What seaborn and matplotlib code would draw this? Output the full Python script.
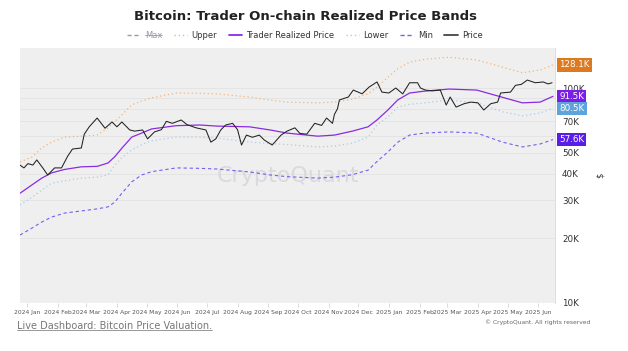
import pandas as pd
import numpy as np
import matplotlib
matplotlib.use('Agg')
import matplotlib.pyplot as plt
import matplotlib.dates as mdates
from matplotlib.lines import Line2D
import seaborn as sns

# Band values (K USD)
band_dates = ['2023-12-25', '2024-01-06', '2024-01-16', '2024-01-26', '2024-02-08', '2024-02-25',
              '2024-03-12', '2024-03-23', '2024-03-30', '2024-04-06', '2024-04-16', '2024-04-26',
              '2024-05-06', '2024-05-31', '2024-06-24', '2024-07-11', '2024-08-13', '2024-09-03',
              '2024-09-20', '2024-10-21', '2024-11-07', '2024-11-25', '2024-12-11', '2024-12-20',
              '2024-12-31', '2025-01-10', '2025-01-22', '2025-02-06', '2025-03-03', '2025-03-31',
              '2025-04-26', '2025-05-16', '2025-06-03', '2025-06-16']
upper = [45.3, 47.7, 52.6, 56.0, 59.1, 59.7, 60.4, 65.3, 70.0, 75.0, 83.5, 87.0, 90.0, 94.8, 94.5,
         93.9, 90.8, 87.9, 86.0, 85.3, 86.0, 88.7, 94.0, 101.0, 112.0, 123.0, 132.0, 136.0, 139.0,
         135.0, 125.0, 117.7, 121.3, 128.1]
realized = [32.4, 35.4, 38.1, 40.3, 41.8, 43.0, 43.2, 44.8, 48.0, 52.5, 59.1, 61.7, 64.5, 66.8, 67.3,
            66.5, 66.0, 63.8, 61.7, 59.7, 60.4, 63.0, 66.0, 71.0, 79.0, 88.0, 94.8, 96.7, 98.9,
            97.8, 90.5, 85.3, 86.0, 91.5]
lower = [28.6, 31.0, 33.5, 36.1, 37.0, 38.1, 38.5, 39.5, 43.8, 47.5, 51.5, 54.5, 56.8, 59.1, 59.0,
         58.5, 56.0, 55.2, 54.6, 53.2, 53.7, 55.4, 59.1, 67.3, 73.3, 81.5, 84.0, 85.3, 87.9,
         85.3, 77.5, 74.3, 76.5, 80.5]
minimum = [20.7, 22.3, 23.8, 25.1, 26.2, 26.8, 27.4, 28.0, 29.5, 32.4, 36.6, 39.4, 40.8, 42.5, 42.3,
           42.0, 40.7, 39.4, 38.7, 38.1, 38.5, 39.5, 41.5, 45.5, 50.4, 56.0, 60.4, 61.7, 62.5,
           61.7, 56.0, 53.2, 54.9, 57.6]

price_dates = ['2023-12-25', '2023-12-29', '2024-01-02', '2024-01-07', '2024-01-11', '2024-01-17',
               '2024-01-22', '2024-01-29', '2024-02-05', '2024-02-11', '2024-02-16', '2024-02-25',
               '2024-02-28', '2024-03-04', '2024-03-12', '2024-03-20', '2024-03-27', '2024-04-01',
               '2024-04-06', '2024-04-14', '2024-04-19', '2024-04-27', '2024-05-02', '2024-05-09',
               '2024-05-16', '2024-05-21', '2024-05-27', '2024-06-05', '2024-06-11', '2024-06-20',
               '2024-06-30', '2024-07-05', '2024-07-10', '2024-07-15', '2024-07-20', '2024-07-27',
               '2024-08-01', '2024-08-05', '2024-08-10', '2024-08-16', '2024-08-23', '2024-08-28',
               '2024-09-05', '2024-09-14', '2024-09-20', '2024-09-28', '2024-10-03', '2024-10-10',
               '2024-10-18', '2024-10-25', '2024-10-30', '2024-11-05', '2024-11-07', '2024-11-10',
               '2024-11-12', '2024-11-21', '2024-11-26', '2024-12-05', '2024-12-12', '2024-12-20',
               '2024-12-25', '2025-01-01', '2025-01-08', '2025-01-15', '2025-01-22', '2025-01-30',
               '2025-02-02', '2025-02-07', '2025-02-14', '2025-02-22', '2025-02-28', '2025-03-04',
               '2025-03-10', '2025-03-18', '2025-03-25', '2025-04-01', '2025-04-07', '2025-04-14',
               '2025-04-21', '2025-04-24', '2025-05-04', '2025-05-09', '2025-05-15', '2025-05-21',
               '2025-05-29', '2025-06-06', '2025-06-11', '2025-06-15']
price = [43.8, 42.5, 44.5, 43.8, 46.3, 42.5, 39.4, 42.5, 42.5, 48.0, 52.0, 52.6, 61.0, 66.0, 72.5,
         65.0, 69.5, 66.0, 69.5, 63.8, 63.0, 63.8, 58.0, 62.5, 64.0, 70.0, 68.5, 71.0, 67.5, 65.3,
         63.8, 56.0, 58.0, 63.8, 67.3, 68.5, 64.0, 54.3, 60.4, 59.0, 60.4, 57.3, 54.3, 60.4, 63.0,
         65.3, 61.5, 61.0, 68.5, 67.0, 72.5, 68.5, 75.5, 80.0, 88.0, 90.8, 97.8, 94.0, 101.0, 106.7,
         95.7, 94.8, 100.0, 93.9, 105.8, 105.8, 100.0, 97.8, 97.0, 97.8, 83.3, 90.8, 81.5, 84.5,
         86.0, 85.3, 79.0, 84.5, 86.0, 94.8, 95.7, 102.9, 104.0, 108.9, 105.8, 106.7, 104.5, 105.8]

ytick_vals = [10, 20, 30, 40, 50, 70, 100]

bands = pd.DataFrame({'date': pd.to_datetime(band_dates), 'upper': np.array(upper) * 1000,
                      'realized': np.array(realized) * 1000, 'lower': np.array(lower) * 1000,
                      'min': np.array(minimum) * 1000})
df_price = pd.DataFrame({'date': pd.to_datetime(price_dates), 'price': np.array(price) * 1000})

c_upper, c_upper_badge = '#f2b57a', '#dd7a1f'
c_real, c_real_badge = '#8a2be2', '#7a1ee6'
c_lower, c_lower_badge = '#a9cdee', '#5fa3dc'
c_min, c_min_badge = '#7c5cf2', '#5b1ee8'
c_price = '#222222'

sns.set_theme(style='white')
plt.rcParams['font.family'] = ['DejaVu Sans']

fig = plt.figure(figsize=(6.28, 3.51), dpi=100)
ax = fig.add_axes([20 / 628, 1 - 303 / 351, 535 / 628, 255 / 351])
ax.set_facecolor('#efefef')

sns.lineplot(data=bands, x='date', y='upper', ax=ax, color=c_upper, lw=0.9, ls=(0, (1, 2.2)))
sns.lineplot(data=bands, x='date', y='lower', ax=ax, color=c_lower, lw=0.9, ls=(0, (1, 2.2)))
sns.lineplot(data=bands, x='date', y='min', ax=ax, color=c_min, lw=0.8, ls=(0, (3, 2.5)))
sns.lineplot(data=bands, x='date', y='realized', ax=ax, color=c_real, lw=0.9)
sns.lineplot(data=df_price, x='date', y='price', ax=ax, color=c_price, lw=0.75)

ax.set_yscale('log')
ax.set_ylim(10000, 153500)
ax.set_xlim(pd.Timestamp('2023-12-25'), pd.Timestamp('2025-06-18'))

# grid lines every 10K
for g in range(10, 110, 10):
    ax.axhline(g * 1000, color='#e2e2e2', lw=0.6, zorder=0)

ax.yaxis.tick_right()
ax.yaxis.set_label_position('right')
ax.set_yticks([v * 1000 for v in ytick_vals])
ax.set_yticklabels([f'{v}K' for v in ytick_vals])
ax.yaxis.set_minor_locator(matplotlib.ticker.NullLocator())
ax.tick_params(axis='y', length=0, pad=5, labelsize=6.3, labelcolor='#333333')
ax.set_ylabel('$', fontsize=6, rotation=90, labelpad=8, color='#333333')

ax.xaxis.set_major_locator(mdates.MonthLocator())
ax.xaxis.set_major_formatter(mdates.DateFormatter('%Y %b'))
ax.tick_params(axis='x', length=3, width=0.5, color='#cccccc', pad=2, labelsize=4.3,
               labelcolor='#555555', bottom=True)
ax.set_xlabel('')

for s in ['top', 'left', 'bottom']:
    ax.spines[s].set_visible(False)
ax.spines['right'].set_color('#d8d8d8')
ax.spines['right'].set_linewidth(0.6)

# watermark
ax.text(0.5, 0.5, 'CryptoQuant', transform=ax.transAxes, ha='center', va='center',
        fontsize=16, color='#d9d9de', zorder=0.5)

# value badges
for val, col in [(128.1, c_upper_badge), (91.5, c_real_badge), (80.5, c_lower_badge), (57.6, c_min_badge)]:
    ax.annotate(f'{val}K', xy=(1, val * 1000), xycoords=('axes fraction', 'data'),
                xytext=(3, 0), textcoords='offset points', ha='left', va='center',
                fontsize=6.3, color='white', zorder=5,
                bbox=dict(boxstyle='square,pad=0.25', fc=col, ec='none'))

# title and legend
fig.text(305 / 628, 1 - 17 / 351, 'Bitcoin: Trader On-chain Realized Price Bands', ha='center',
         va='center', fontsize=9.5, fontweight='bold', color='#222222')
handles = [Line2D([], [], color='#9a9aa8', lw=1, ls=(0, (3, 2))),
           Line2D([], [], color=c_upper, lw=1, ls=(0, (1, 2))),
           Line2D([], [], color=c_real, lw=1.3),
           Line2D([], [], color=c_lower, lw=1, ls=(0, (1, 2))),
           Line2D([], [], color=c_min, lw=1, ls=(0, (3, 2))),
           Line2D([], [], color='#444444', lw=1.3)]
labels = ['Max', 'Upper', 'Trader Realized Price', 'Lower', 'Min', 'Price']
leg = fig.legend(handles, labels, loc='center', bbox_to_anchor=(305 / 628, 1 - 35 / 351), ncol=6,
                 frameon=False, fontsize=6, handlelength=1.6, columnspacing=1.4, handletextpad=0.5)
leg.get_texts()[0].set_color('#9a9aa8')
for t in leg.get_texts()[1:]:
    t.set_color('#333333')

# footer
foot = fig.text(17 / 628, 1 - 326 / 351, 'Live Dashboard: Bitcoin Price Valuation.', ha='left',
                va='center', fontsize=7, color='#777777')
fig.text(590 / 628, 1 - 322 / 351, '\u00a9 CryptoQuant. All rights reserved', ha='right',
         va='center', fontsize=4.3, color='#666666')

# strike-through on "Max" and underline on the footer link
fig.canvas.draw()
r = fig.canvas.get_renderer()
inv = fig.transFigure.inverted()
bb = leg.get_texts()[0].get_window_extent(r)
(x0, y0), (x1, y1) = inv.transform([[bb.x0, bb.y0], [bb.x1, bb.y1]])
fig.add_artist(Line2D([x0, x1], [(y0 + y1) / 2] * 2, color='#9a9aa8', lw=0.6, transform=fig.transFigure))
bb = foot.get_window_extent(r)
(x0, y0), (x1, y1) = inv.transform([[bb.x0, bb.y0], [bb.x1, bb.y1]])
fig.add_artist(Line2D([x0, x1], [y0 + 0.004] * 2, color='#888888', lw=0.6, transform=fig.transFigure))

fig.savefig('out.png', dpi=100)
plt.close()
